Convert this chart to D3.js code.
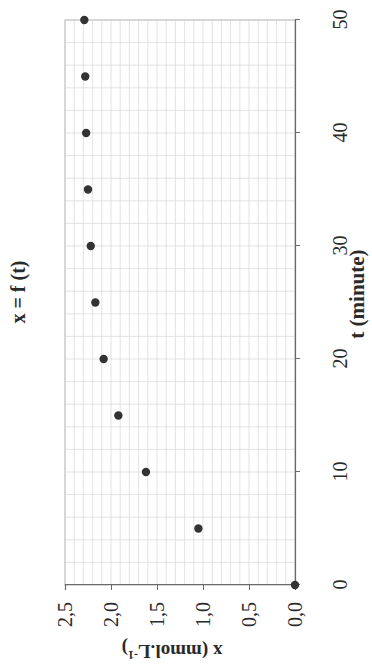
<!DOCTYPE html>
<html>
<head>
<meta charset="utf-8">
<script src="https://cdn.jsdelivr.net/npm/d3@7"></script>
<style>
  body { margin: 0; background: #fff; }
  text { font-family: "Liberation Serif", "Times New Roman", serif; fill: #2a2a2a; }
</style>
</head>
<body>
<script>
// data
const times = [0, 5, 10, 15, 20, 25, 30, 35, 40, 45, 50];
const conc = [0, 1.05, 1.62, 1.92, 2.08, 2.17, 2.22, 2.25, 2.27, 2.28, 2.29];
const tTicks = [0, 10, 20, 30, 40, 50];
const xTicks = [0, 0.5, 1, 1.5, 2, 2.5];

const W = 372, H = 666;
// chart is drawn normally then turned a quarter turn, so its width is the page height
const CW = H, CH = W;
const margin = { top: 65, right: 20, bottom: 77, left: 81 };

const svg = d3.select("body").append("svg")
  .attr("width", W)
  .attr("height", H);

const chart = svg.append("g")
  .attr("transform", `translate(0,${H}) rotate(-90)`);

const t = d3.scaleLinear().domain([0, 50]).range([margin.left, CW - margin.right]);
const y = d3.scaleLinear().domain([0, 2.5]).range([CH - margin.bottom, margin.top]);

const comma = d3.formatLocale({ decimal: ",", thousands: ".", grouping: [3], currency: ["", ""] }).format(".1f");

// grid
const grid = chart.append("g").attr("stroke", "#dcdcdc").attr("stroke-width", 0.8);
grid.selectAll(".gy")
  .data(d3.range(0, 2.51, 0.1))
  .join("line")
  .attr("x1", t(0)).attr("x2", t(50))
  .attr("y1", d => y(d)).attr("y2", d => y(d));
grid.selectAll(".gt")
  .data(d3.range(0, 50.1, 2))
  .join("line")
  .attr("x1", d => t(d)).attr("x2", d => t(d))
  .attr("y1", y(0)).attr("y2", y(2.5));

// frame
chart.append("rect")
  .attr("x", t(0)).attr("y", y(2.5))
  .attr("width", t(50) - t(0)).attr("height", y(0) - y(2.5))
  .attr("fill", "none").attr("stroke", "#bdbdbd").attr("stroke-width", 1);

// axes
const xAxis = chart.append("g")
  .attr("transform", `translate(0,${y(0)})`)
  .call(d3.axisBottom(t).tickValues(tTicks).tickSize(5).tickPadding(32));
const yAxis = chart.append("g")
  .attr("transform", `translate(${t(0)},0)`)
  .call(d3.axisLeft(y).tickValues(xTicks).tickFormat(comma).tickSize(5).tickPadding(12));

[xAxis, yAxis].forEach(a => {
  a.select(".domain").attr("stroke", "#6a6a6a").attr("stroke-width", 1.2);
  a.selectAll(".tick line").attr("stroke", "#6a6a6a");
  a.selectAll("text")
    .attr("font-family", "'Liberation Serif', serif")
    .attr("font-size", 20)
    .attr("fill", "#2a2a2a");
});
xAxis.selectAll("text").attr("dy", "0.35em").attr("y", 45);

// points
chart.append("g")
  .selectAll("circle")
  .data(times)
  .join("circle")
  .attr("cx", d => t(d))
  .attr("cy", (d, i) => y(conc[i]))
  .attr("r", 4.2)
  .attr("fill", "#333");

// titles
chart.append("text")
  .attr("x", 374).attr("y", 18)
  .attr("text-anchor", "middle").attr("dy", "0.35em")
  .attr("font-weight", "bold").attr("font-size", 20)
  .text("x = f (t)");

chart.append("text")
  .attr("x", 372).attr("y", 357)
  .attr("text-anchor", "middle").attr("dy", "0.35em")
  .attr("font-weight", "bold").attr("font-size", 21)
  .text("t  (minute)");

const yt = chart.append("text")
  .attr("transform", `translate(14,${172}) rotate(-90)`)
  .attr("text-anchor", "middle").attr("dy", "0.35em")
  .attr("font-weight", "bold").attr("font-size", 19);
yt.append("tspan").text("x  (mmol.L");
yt.append("tspan").attr("dy", "-0.5em").attr("font-size", 12).text("-1");
yt.append("tspan").attr("dy", "0.5em").text(")");
</script>
</body>
</html>
